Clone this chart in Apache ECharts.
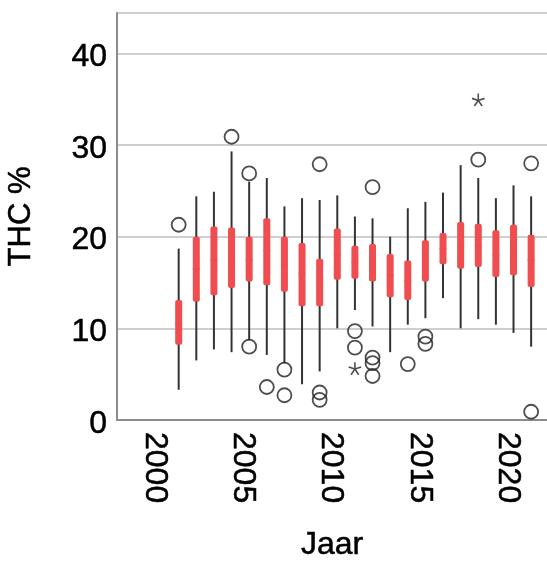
<!DOCTYPE html>
<html>
<head>
<meta charset="utf-8">
<script src="https://cdn.jsdelivr.net/npm/echarts@6/dist/echarts.min.js"></script>
<style>
html,body{margin:0;padding:0;background:#fff;}
#chart{width:547px;height:562px;}
</style>
</head>
<body>
<div id="chart"></div>
<script>
const years  = [2001,2002,2003,2004,2005,2006,2007,2008,2009,2010,2011,2012,2013,2014,2015,2016,2017,2018,2019,2020,2021];
const low    = [3.3, 6.5, 7.7, 7.4, 8.7, 7.1, 6.2, 3.9, 5.3, 10.0, 12.0, 10.2, 7.4, 10.4, 11.1, 13.3, 10.0, 11.0, 10.4, 9.5, 8.0];
const q1     = [8.2, 12.9, 13.6, 14.4, 15.1, 14.7, 14.0, 12.4, 12.4, 15.3, 15.4, 15.1, 13.4, 13.1, 15.1, 17.0, 16.5, 16.7, 15.6, 15.8, 14.5];
const median = [10.5, 16.5, 17.5, 17.8, 17.5, 18.5, 17.0, 16.0, 15.0, 18.0, 17.2, 17.0, 15.8, 15.2, 17.3, 18.7, 19.0, 19.0, 18.0, 18.5, 17.5];
const q3     = [13.1, 20.0, 21.1, 21.0, 20.0, 22.0, 20.0, 19.3, 17.6, 20.9, 19.0, 19.2, 18.1, 17.4, 19.6, 20.4, 21.6, 21.4, 20.7, 21.3, 20.2];
const high   = [18.7, 24.4, 24.9, 29.3, 26.0, 26.4, 23.3, 24.2, 24.0, 24.5, 22.2, 22.0, 20.0, 23.1, 23.8, 24.8, 27.8, 26.4, 24.2, 25.6, 24.4];

const outlierYears  = [2001, 2004, 2005, 2005, 2006, 2007, 2007, 2009, 2009, 2009, 2011, 2011, 2012, 2012, 2012, 2012, 2014, 2015, 2015, 2018, 2021, 2021];
const outlierValues = [21.3, 30.9, 26.9, 8.0, 3.6, 5.5, 2.7, 27.9, 3.0, 2.2, 9.7, 7.9, 25.4, 6.8, 6.2, 4.8, 6.1, 9.1, 8.3, 28.4, 28.0, 0.9];

const extremeYears  = [2011, 2018];
const extremeValues = [5.6, 34.9];

const xTickLabels = [2000, 2005, 2010, 2015, 2020];
const yTickLabels = [0, 10, 20, 30, 40];

const boxData = years.map((y, i) => [y, low[i], q1[i], median[i], q3[i], high[i]]);
const outlierData = outlierYears.map((y, i) => [y, outlierValues[i]]);
const extremeData = extremeYears.map((y, i) => [y, extremeValues[i]]);

const starPath = 'path://M-1.2,0L-1.2,-10L1.2,-10L1.2,0Z' +
  'M-0.371,-1.141L9.139,-4.231L9.881,-1.949L0.371,1.141Z' +
  'M0.971,-0.706L6.851,7.384L4.909,8.796L-0.971,0.706Z' +
  'M0.971,0.706L-4.909,8.796L-6.851,7.384L-0.971,-0.706Z' +
  'M-0.371,1.141L-9.881,-1.949L-9.139,-4.231L0.371,-1.141Z';

const RED = '#ef4d4f';
const font = 'Liberation Sans, Arial, sans-serif';
const textThick = {textBorderColor: '#000', textBorderWidth: 0.5};

const chart = echarts.init(document.getElementById('chart'), null, {renderer: 'canvas'});
chart.setOption({
  animation: false,
  backgroundColor: '#fff',
  grid: {left: 117, right: 0, top: 13, bottom: 142, containLabel: false, outerBoundsMode: 'none'},
  xAxis: {
    type: 'value',
    min: 1997.5,
    max: 2021.9,
    name: 'Jaar',
    nameLocation: 'middle',
    nameGap: 109,
    nameTextStyle: Object.assign({fontFamily: font, fontSize: 32, color: '#000'}, textThick),
    axisLine: {show: true, onZero: false, lineStyle: {color: '#8c8c8c', width: 2}},
    axisTick: {show: false},
    splitLine: {show: false},
    axisLabel: Object.assign({
      customValues: xTickLabels,
      formatter: function (v) { return String(v); },
      rotate: -90,
      margin: 12,
      verticalAlign: 'top',
      lineHeight: 12,
      fontFamily: font,
      fontSize: 32,
      color: '#000'
    }, textThick)
  },
  yAxis: {
    type: 'value',
    min: 0,
    max: 44.4,
    interval: 10,
    name: 'THC %',
    nameLocation: 'middle',
    nameGap: 80,
    nameTextStyle: Object.assign({fontFamily: font, fontSize: 31, color: '#000'}, textThick),
    axisLine: {show: true, lineStyle: {color: '#8c8c8c', width: 2}},
    axisTick: {show: false},
    splitLine: {show: true, lineStyle: {color: '#cfcfcf', width: 2}},
    axisLabel: Object.assign({
      customValues: yTickLabels,
      margin: 10,
      verticalAlign: 'top',
      lineHeight: 8,
      fontFamily: font,
      fontSize: 32,
      color: '#000'
    }, textThick)
  },
  series: [
    {
      type: 'custom',
      data: boxData,
      encode: {x: 0, y: [1, 2, 3, 4, 5]},
      z: 3,
      renderItem: function (params, api) {
        const x = api.value(0);
        const pLow = api.coord([x, api.value(1)]);
        const pQ1 = api.coord([x, api.value(2)]);
        const pMed = api.coord([x, api.value(3)]);
        const pQ3 = api.coord([x, api.value(4)]);
        const pHigh = api.coord([x, api.value(5)]);
        const w = 7;
        return {
          type: 'group',
          children: [
            {type: 'line', shape: {x1: pLow[0], y1: pLow[1], x2: pHigh[0], y2: pHigh[1]},
             style: {stroke: '#333', lineWidth: 2}},
            {type: 'rect', shape: {x: pQ3[0] - w / 2, y: pQ3[1], width: w, height: pQ1[1] - pQ3[1], r: 2},
             style: {fill: RED}},
            {type: 'line', shape: {x1: pMed[0] - w / 2, y1: pMed[1], x2: pMed[0] + w / 2, y2: pMed[1]},
             style: {stroke: RED, lineWidth: 1}}
          ]
        };
      }
    },
    {
      type: 'scatter',
      data: outlierData,
      symbol: 'circle',
      symbolSize: 14,
      z: 4,
      itemStyle: {color: 'rgba(255,255,255,0)', borderColor: '#222', borderWidth: 1.8}
    },
    {
      type: 'scatter',
      data: extremeData,
      symbol: starPath,
      symbolSize: 13,
      z: 4,
      itemStyle: {color: '#222'}
    }
  ]
});
</script>
</body>
</html>
